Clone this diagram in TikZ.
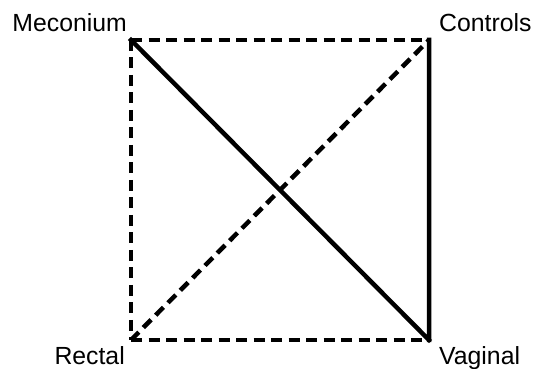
\documentclass[tikz,border=0pt]{standalone}
\usepackage{fontspec}
\setmainfont{Liberation Sans}
\usepackage{tikz}
\usetikzlibrary{calc}
\colorlet{colbg}{white}
\colorlet{colfg}{black}
\tikzstyle{corner}=[coordinate]
\tikzstyle{edge}=[line width=4.5pt,colfg,line cap=rect]
\tikzstyle{dashedge}=[edge,line cap=butt,dash pattern=on 11pt off 6.5pt]
\tikzstyle{labelsty}=[font=\fontsize{24.8}{28}\selectfont,inner sep=0pt]

\begin{document}
\begin{tikzpicture}[x=1pt,y=1pt]
      \useasboundingbox[fill=colbg] (0,0) rectangle (533,369);
      % Corners of the square
      \node[corner] (mec) at (131,329) {};
      \node[corner] (con) at (429,329) {};
      \node[corner] (rec) at (131,29) {};
      \node[corner] (vag) at (429,29) {};

      % Labels
      \node[labelsty,anchor=base east] (meclab) at (127,337) {Meconium};
      \node[labelsty,anchor=base west] (conlab) at (439,337) {Controls};
      \node[labelsty,anchor=base east] (reclab) at (125,4) {Rectal};
      \node[labelsty,anchor=base west] (vaglab) at (439,4) {Vaginal};

      % Solid connections
      \draw[edge] (mec) -- (vag) (vag) -- (con);

      % Dashed connections
      \draw[dashedge] (mec) -- (con);
      \draw[dashedge] (mec) -- (rec);
      \draw[dashedge] (rec) -- (vag);
      \draw[dashedge] (rec) -- (con);
    \end{tikzpicture}
\end{document}
